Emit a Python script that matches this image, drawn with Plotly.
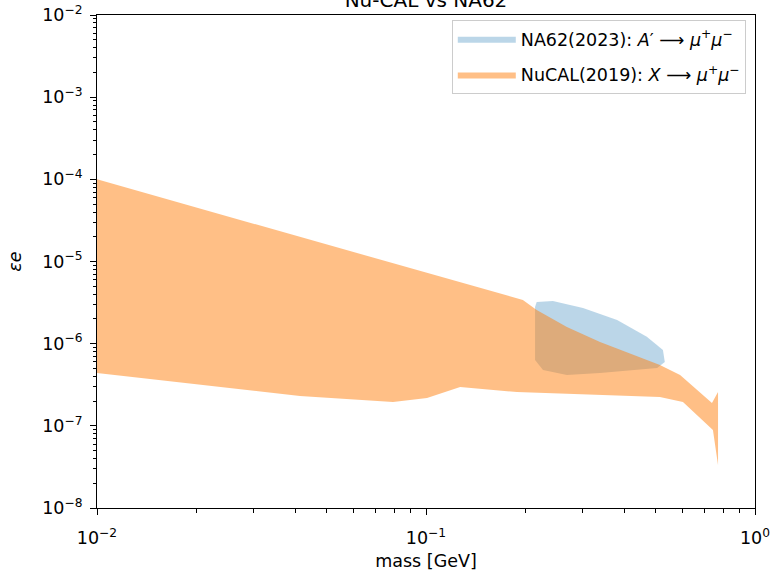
import plotly.graph_objects as go

# NuCAL(2019) excluded region: upper edge (left->right) then lower edge (right->left)
nucal_mass = [0.01, 0.197, 0.217, 0.268, 0.338, 0.426, 0.514, 0.592, 0.740, 0.772,
              0.772, 0.745, 0.604, 0.514, 0.338, 0.189, 0.127, 0.1007, 0.0794, 0.0414, 0.01]
nucal_eps = [1.0e-4, 3.40e-6, 2.57e-6, 1.60e-6, 1.05e-6, 7.3e-7, 5.5e-7, 4.16e-7, 1.90e-7, 2.58e-7,
             3.34e-8, 8.9e-8, 1.95e-7, 2.24e-7, 2.37e-7, 2.58e-7, 2.97e-7, 2.18e-7, 1.95e-7, 2.31e-7, 4.40e-7]

# NA62(2023) excluded region
na62_mass = [0.2145, 0.217, 0.243, 0.300, 0.381, 0.469, 0.525, 0.532, 0.504, 0.338, 0.268, 0.2268, 0.2145]
na62_eps = [2.79e-6, 3.21e-6, 3.30e-6, 2.72e-6, 1.94e-6, 1.21e-6, 8.4e-7, 5.98e-7, 5.06e-7, 4.40e-7, 4.16e-7, 4.79e-7, 6.33e-7]

x_ticks = [0.01, 0.1, 1.0]
x_labels = ["10<sup>−2</sup>", "10<sup>−1</sup>", "10<sup>0</sup>"]
y_ticks = [1e-8, 1e-7, 1e-6, 1e-5, 1e-4, 1e-3, 1e-2]
y_labels = ["10<sup>−8</sup>", "10<sup>−7</sup>", "10<sup>−6</sup>", "10<sup>−5</sup>",
            "10<sup>−4</sup>", "10<sup>−3</sup>", "10<sup>−2</sup>"]

def minor_vals(lo_exp, hi_exp):
    vals = []
    for e in range(lo_exp, hi_exp):
        for k in range(2, 10):
            vals.append(k * 10.0 ** e)
    return vals

FONT = "DejaVu Sans"
FS = 17.5

fig = go.Figure()
fig.add_trace(go.Scatter(
    x=na62_mass, y=na62_eps, mode="lines", fill="toself",
    fillcolor="rgba(31,119,180,0.3)", line=dict(width=0, color="rgba(31,119,180,0.3)"),
    name="NA62(2023): <i>A</i>′ ⟶ <i>μ</i><sup>+</sup><i>μ</i><sup>−</sup>",
    legendgroup="a", hoverinfo="skip"))
fig.add_trace(go.Scatter(
    x=nucal_mass, y=nucal_eps, mode="lines", fill="toself",
    fillcolor="rgba(255,127,14,0.5)", line=dict(width=0, color="rgba(255,127,14,0.5)"),
    name="NuCAL(2019): <i>X</i> ⟶ <i>μ</i><sup>+</sup><i>μ</i><sup>−</sup>",
    legendgroup="b", hoverinfo="skip"))

axis_common = dict(
    showline=True, linecolor="black", linewidth=1, mirror=True,
    ticks="outside", ticklen=6, tickwidth=1, tickcolor="black",
    showgrid=False, zeroline=False,
    tickfont=dict(family=FONT, size=FS, color="black"),
)

fig.update_xaxes(
    type="log", range=[-2, 0], tickmode="array", tickvals=x_ticks, ticktext=x_labels,
    minor=dict(tickmode="array", tickvals=minor_vals(-2, 0), ticks="outside",
               ticklen=3.5, tickwidth=1, tickcolor="black", showgrid=False),
    ticklabelstandoff=8,
    title=dict(text="mass [GeV]", font=dict(family=FONT, size=FS, color="black"), standoff=7),
    **axis_common)
fig.update_yaxes(
    type="log", range=[-8, -2], tickmode="array", tickvals=y_ticks, ticktext=y_labels,
    minor=dict(tickmode="array", tickvals=minor_vals(-8, -2), ticks="outside",
               ticklen=3.5, tickwidth=1, tickcolor="black", showgrid=False),
    ticklabelstandoff=4,
    title=dict(text="<i>εe</i>", font=dict(family=FONT, size=FS, color="black"), standoff=16),
    **axis_common)

fig.update_layout(
    width=772, height=574,
    margin=dict(l=97, r=17, t=15, b=66, autoexpand=False),
    paper_bgcolor="white", plot_bgcolor="white",
    title=dict(text="Nu-CAL vs NA62", font=dict(family=FONT, size=20, color="black"),
               x=0.5, xref="paper", y=1.0, yref="container", yanchor="middle"),
    font=dict(family=FONT, size=FS, color="black"),
    legend=dict(x=0.986, xanchor="right", y=0.99, yanchor="top",
                bgcolor="rgba(255,255,255,0.8)", bordercolor="#cccccc", borderwidth=1,
                font=dict(family=FONT, size=FS, color="black"),
                tracegroupgap=10, itemwidth=58),
    showlegend=True,
)

fig.write_html("out.html")
